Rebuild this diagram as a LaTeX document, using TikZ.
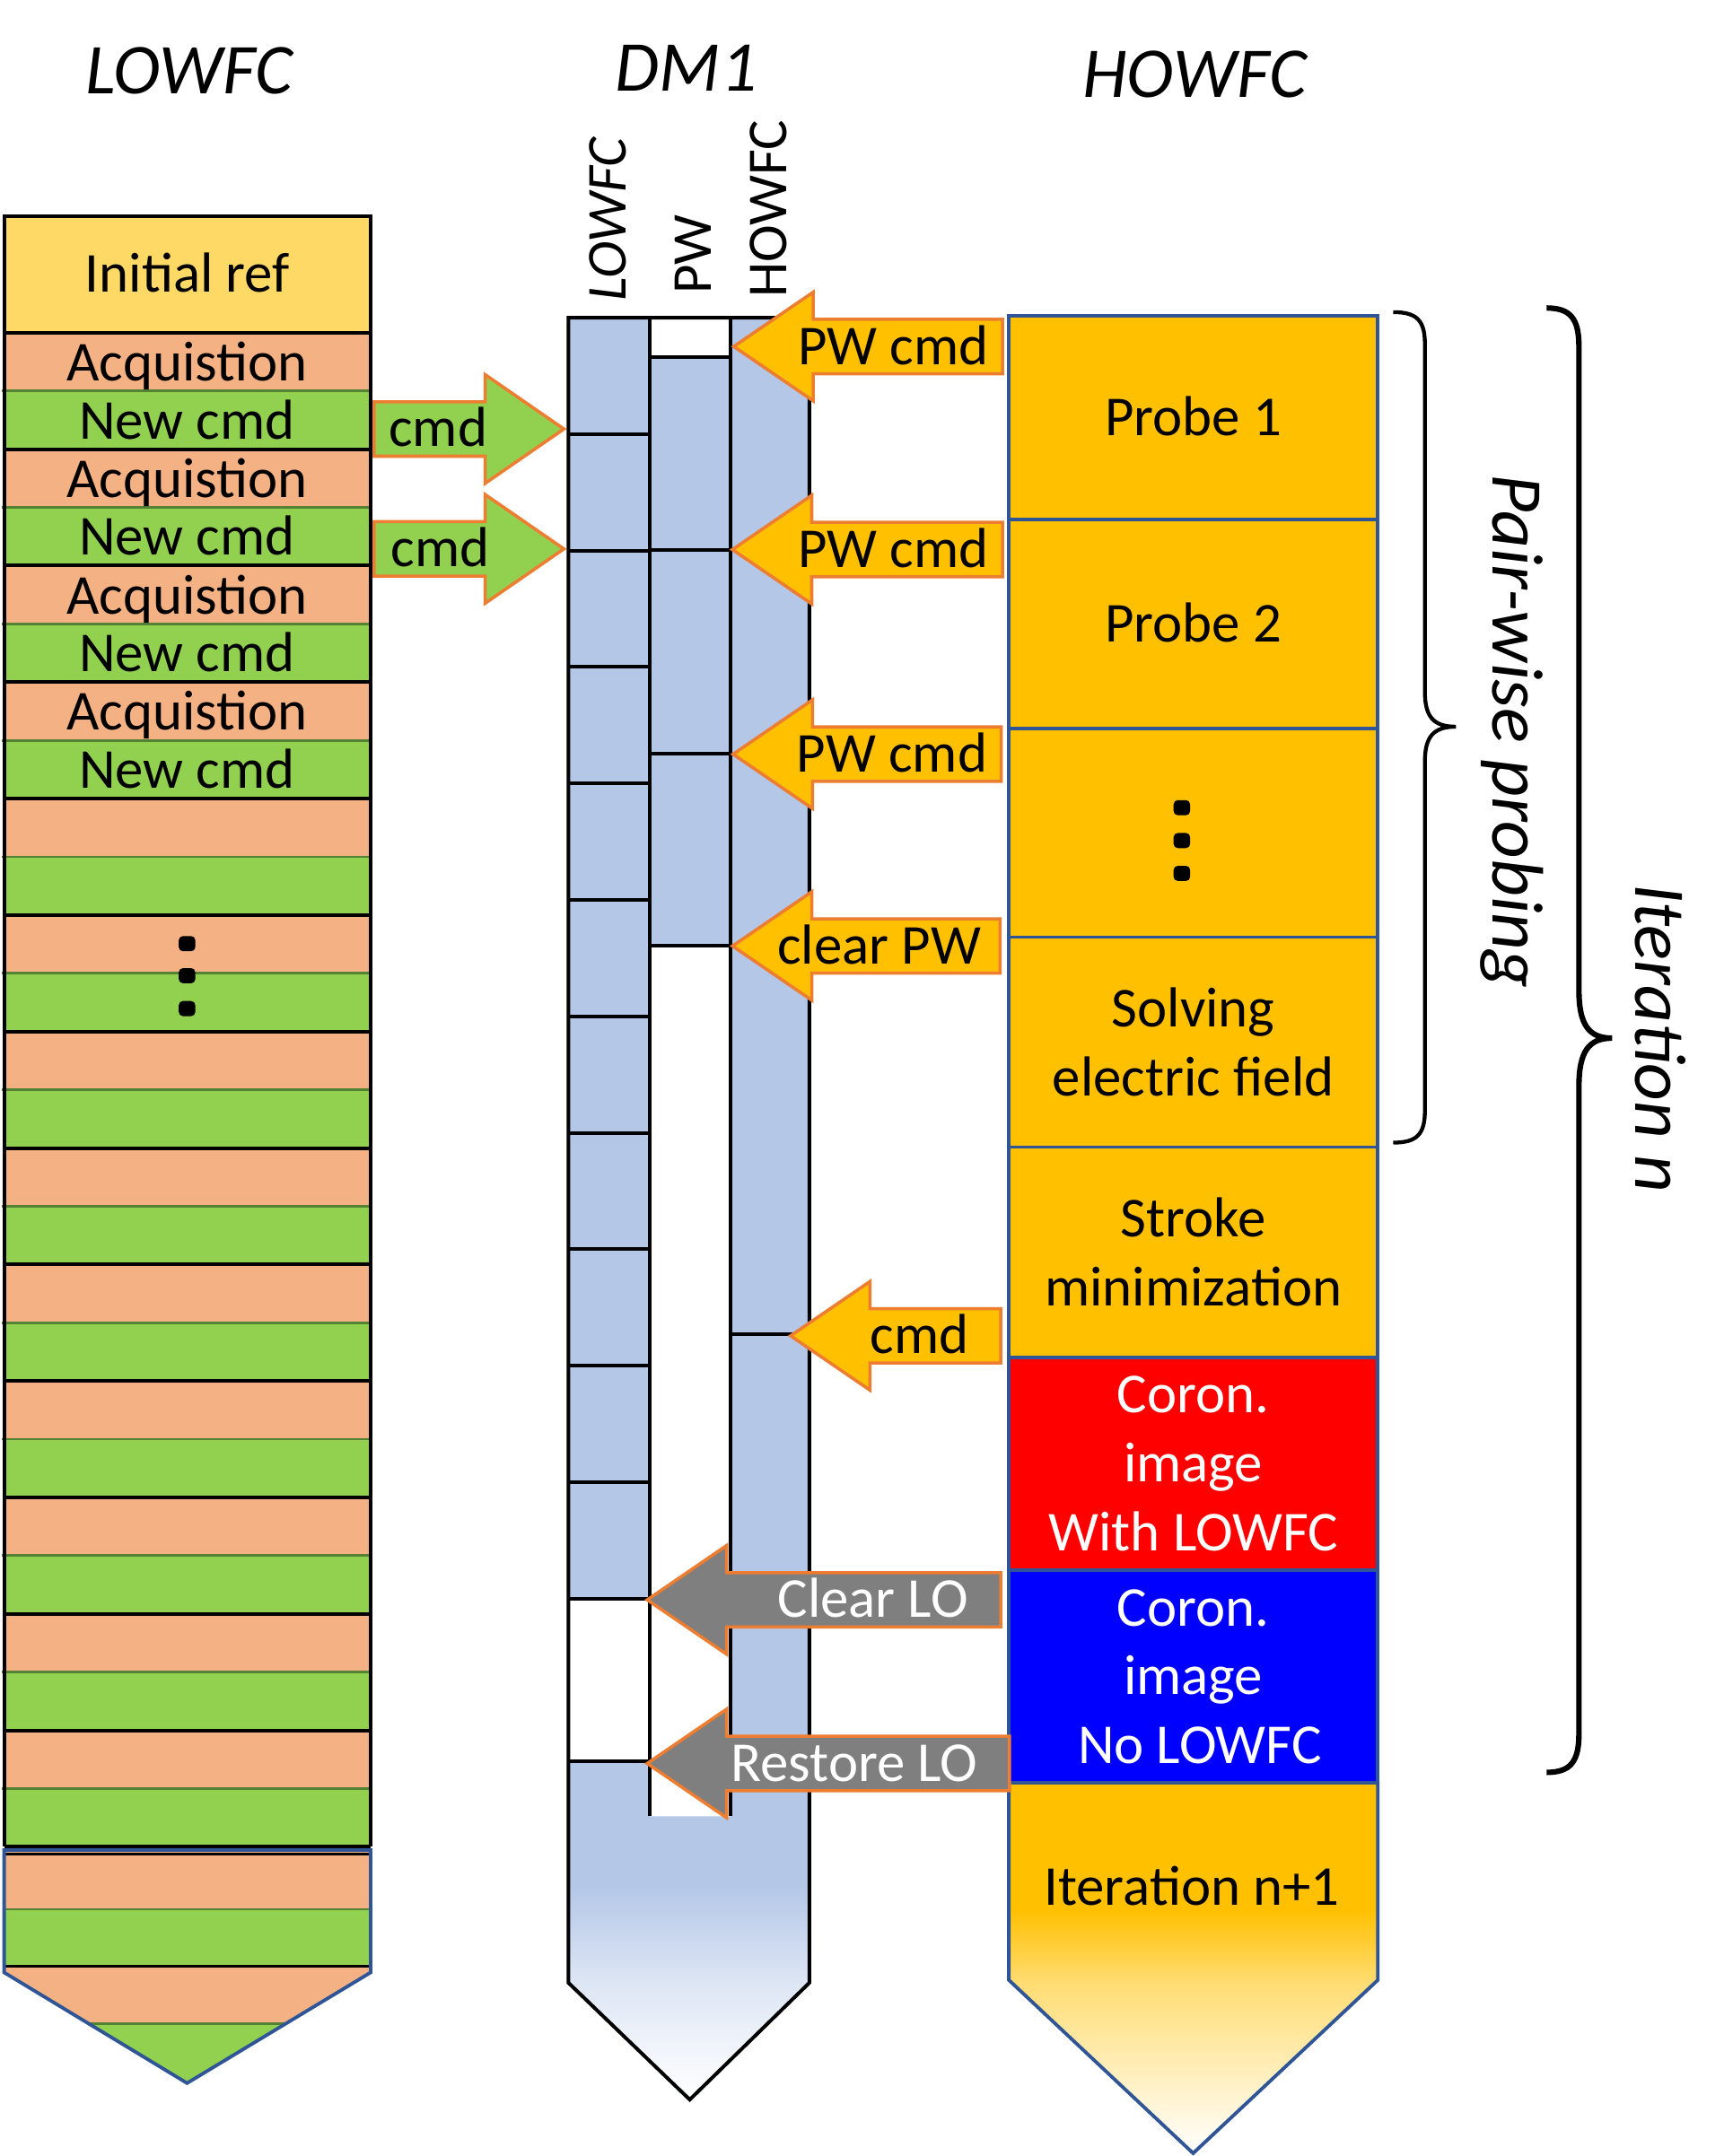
\documentclass[tikz,border=0pt]{standalone}
\usepackage{fontspec}
\setmainfont{Carlito}
\definecolor{initref}{HTML}{FFD966}
\definecolor{acq}{HTML}{F4B183}
\definecolor{newc}{HTML}{92D050}
\definecolor{dkgreen}{HTML}{548235}
\definecolor{dmblue}{HTML}{B4C7E7}
\definecolor{howy}{HTML}{FFC000}
\definecolor{bord}{HTML}{2F5597}
\definecolor{arrbord}{HTML}{ED7D31}
\definecolor{greyarr}{HTML}{7F7F7F}
\definecolor{coronred}{HTML}{FF0000}
\definecolor{coronblue}{HTML}{0000FF}
\pgfdeclareverticalshading{howshade}{100bp}{color(0bp)=(white); color(25bp)=(white); color(48bp)=(howy!55!white); color(58bp)=(howy); color(100bp)=(howy)}
\pgfdeclareverticalshading{dmshade}{100bp}{color(0bp)=(white); color(25bp)=(white); color(45.6bp)=(dmblue!45!white); color(62.9bp)=(dmblue); color(100bp)=(dmblue)}
\tikzset{
  lbl/.style={inner sep=0pt, font=\fontsize{41}{50}\selectfont, align=center},
  one/.style={text height=25.9pt, text depth=0pt},
  ttl/.style={inner sep=0pt, font=\fontsize{52}{62}\selectfont\itshape, text height=32.9pt, text depth=0pt},
  brl/.style={inner sep=0pt, font=\fontsize{53}{64}\selectfont\itshape, text height=33.5pt, text depth=0pt, rotate=-90},
  blk/.style={line width=2.6pt},
  cell/.style={line width=2.6pt},
  sepg/.style={dkgreen, line width=1.8pt},
  harrow/.style={fill=howy, draw=arrbord, line width=2.3pt},
  garrow/.style={fill=greyarr, draw=arrbord, line width=2.3pt},
  narrow/.style={fill=newc, draw=arrbord, line width=2.3pt},
  hbox/.style={draw=bord, line width=2.5pt, minimum width=268.3pt, lbl},
  dotbox/.style={fill=black, rounded corners=3pt},
}
\newcommand\ArrL[4]{\draw[#1] (#2,#3) -- ({#2+57.7},{#3-39.5}) -- ({#2+57.7},{#3-19.8}) -- (#4,{#3-19.8}) -- (#4,{#3+19.8}) -- ({#2+57.7},{#3+19.8}) -- ({#2+57.7},{#3+39.5}) -- cycle;}
\newcommand\ArrR[4]{\draw[#1] (#2,#3) -- ({#2-57.2},{#3-39.5}) -- ({#2-57.2},{#3-19.8}) -- (#4,{#3-19.8}) -- (#4,{#3+19.8}) -- ({#2-57.2},{#3+19.8}) -- ({#2-57.2},{#3+39.5}) -- cycle;}
\begin{document}
\begin{tikzpicture}[x=1pt,y=-1pt]
\useasboundingbox (0,0) rectangle (1253,1568);
\fill[white] (0,0) rectangle (1253,1568);

% ---------- titles ----------
\node[ttl] (tlow) at (137.5,52) {LOWFC};
\node[ttl] (tdm) at (499,49.5) {DM1};
\node[ttl] (thow) at (868.5,54.2) {HOWFC};

% ---------- LOWFC column ----------
\node[draw=black, blk, fill=initref, minimum width=266.5pt, minimum height=85pt, lbl, one] (initref) at (136.25,199.5) {Initial ref};
\foreach \k in {0,...,12} {
  \fill[acq] (3,{242+84.7*\k}) rectangle (269.5,{284.35+84.7*\k});
  \fill[newc] (3,{284.35+84.7*\k}) rectangle (269.5,{327.05+84.7*\k});
  \draw[sepg] (1.5,{284.35+84.7*\k}) -- (271,{284.35+84.7*\k});
}
\foreach \k in {0,...,13} \draw[blk] (3,{242+84.7*\k}) -- (269.5,{242+84.7*\k});
\draw[blk] (3,157) -- (3,1343.1) (269.5,157) -- (269.5,1343.1);
\foreach \k in {0,...,3} {
  \node[lbl,one] (acq\k) at (136,{264+84.7*\k}) {Acquistion};
  \node[lbl,one] (new\k) at (136,{306.2+84.7*\k}) {New cmd};
}
\foreach \yy in {686.3,709.6,733.5} \fill[dotbox] (130,{\yy-5.5}) rectangle (142,{\yy+5.5});
% bottom pentagon of LOWFC column
\begin{scope}
\clip (3,1345.5) -- (269.5,1345.5) -- (269.5,1434.5) -- (136,1515) -- (3,1434.5) -- cycle;
\fill[acq] (0,1344) rectangle (272,1388.5);
\fill[newc] (0,1388.5) rectangle (272,1430);
\fill[acq] (0,1430) rectangle (272,1471.7);
\fill[newc] (0,1471.7) rectangle (272,1520);
\draw[line width=1.5pt] (0,1348.5) -- (272,1348.5);
\draw[sepg] (0,1388.5) -- (272,1388.5);
\draw[line width=1.8pt] (0,1430) -- (272,1430);
\draw[sepg] (0,1471.7) -- (272,1471.7);
\end{scope}
\draw[bord, line width=2.5pt] (3,1345.5) -- (269.5,1345.5) -- (269.5,1434.5) -- (136,1515) -- (3,1434.5) -- cycle;

% ---------- DM1 column ----------
\fill[dmblue] (413.3,231) rectangle (472.2,1163);
\fill[dmblue] (413.3,1281) rectangle (472.2,1322);
\fill[dmblue] (472.2,260) rectangle (531.2,688);
\fill[dmblue] (531.2,231) rectangle (588.5,1322);
\shade[shading=dmshade] (413.3,1321) -- (413.3,1442) -- (501.5,1527) -- (588.5,1442) -- (588.5,1321) -- cycle;
\draw[cell] (413.3,231) -- (413.3,1442) -- (501.5,1527) -- (588.5,1442) -- (588.5,231) -- cycle;
\draw[cell] (472.2,231) -- (472.2,1321);
\draw[cell] (531.2,231) -- (531.2,1321);
\foreach \k in {1,...,11} \draw[cell] (413.3,{231+84.7*\k}) -- (472.2,{231+84.7*\k});
\draw[cell] (413.3,1281) -- (472.2,1281);
\foreach \yy in {260,400,548,688} \draw[cell] (472.2,\yy) -- (531.2,\yy);
\draw[cell] (531.2,970) -- (588.5,970);
\node[lbl,one,rotate=90,font={\fontsize{41}{50}\selectfont\itshape}] (clow) at (442.5,159.4) {LOWFC};
\node[lbl,one,rotate=90] (cpw) at (504,185) {PW};
\node[lbl,one,rotate=90] (chow) at (559,152) {HOWFC};

% ---------- HOWFC column ----------
\node[hbox, fill=howy, minimum height=148.5pt, one] (probe1) at (867.65,303.75) {Probe 1};
\node[hbox, fill=howy, minimum height=152pt, one] (probe2) at (867.65,454) {Probe 2};
\node[hbox, fill=howy, minimum height=151.5pt] (probedots) at (867.65,605.75) {};
\node[hbox, fill=howy, minimum height=152.7pt] (solve) at (867.65,757.85) {Solving\\electric field};
\node[hbox, fill=howy, minimum height=152.8pt] (stroke) at (867.65,910.6) {Stroke\\minimization};
\node[hbox, fill=coronred, text=white, minimum height=155pt] (coron1) at (867.65,1064.5) {Coron.\\image\\With LOWFC};
\node[hbox, fill=coronblue, text=white, minimum height=154.5pt] (coron2) at (867.65,1219.25) {Coron.\\image\\\hspace*{9.3pt}No LOWFC};
\foreach \yy in {587.4,611.3,635.2} \fill[dotbox] (853.3,{\yy-5.5}) rectangle (865.3,{\yy+5.5});
\shade[shading=howshade] (733.5,1296.5) -- (1001.8,1296.5) -- (1001.8,1440) -- (867.5,1566) -- (733.5,1440) -- cycle;
\draw[bord, line width=2.5pt] (733.5,1296.5) -- (1001.8,1296.5) -- (1001.8,1440) -- (867.5,1566) -- (733.5,1440) -- cycle;
\node[lbl,one] (itn1) at (866.5,1372.5) {Iteration n+1};

% ---------- block arrows ----------
\ArrR{narrow}{410}{312}{272}
\node[lbl,one,anchor=west] (cmdA) at (282.5,312) {cmd};
\ArrR{narrow}{410}{399.2}{272}
\node[lbl,one,anchor=west] (cmdB) at (284,399.2) {cmd};

\ArrL{harrow}{533.5}{252}{729}
\node[lbl,one,anchor=east] (pwc1) at (719,252) {PW cmd};
\ArrL{harrow}{532.5}{399.7}{729}
\node[lbl,one,anchor=east] (pwc2) at (719,399.7) {PW cmd};
\ArrL{harrow}{533}{548.5}{728}
\node[lbl,one,anchor=east] (pwc3) at (718,548.5) {PW cmd};
\ArrL{harrow}{532.6}{688}{727.2}
\node[lbl,one,anchor=east] (clrpw) at (713.5,688) {clear PW};
\ArrL{harrow}{574.8}{971.5}{727.7}
\node[lbl,one,anchor=east] (cmdC) at (704.5,971.5) {cmd};
\ArrL{garrow}{470.6}{1163.5}{727.7}
\node[lbl,one,anchor=east,text=white] (clrlo) at (704,1163.5) {Clear LO};
\ArrL{garrow}{470.6}{1282.5}{734}
\node[lbl,one,anchor=east,text=white] (rstlo) at (711,1282.5) {Restore LO};

% ---------- braces ----------
\draw[line width=2.8pt] (1013,227) .. controls (1030,227) and (1036,233) .. (1036,250) -- (1036,503)
  .. controls (1036,521) and (1042,528.5) .. (1058.5,528.5)
  .. controls (1042,528.5) and (1036,536) .. (1036,554) -- (1036,808)
  .. controls (1036,825) and (1030,831) .. (1013,831);
\draw[line width=4pt] (1124.5,224) .. controls (1142,224) and (1148,232) .. (1148,252) -- (1148,720)
  .. controls (1148,745) and (1155,755) .. (1172,755)
  .. controls (1155,755) and (1148,765) .. (1148,790) -- (1148,1261)
  .. controls (1148,1281) and (1142,1289) .. (1124.5,1289);
\node[brl] (pwlabel) at (1102,532) {Pair-wise probing};
\node[brl] (itlabel) at (1205.8,755) {Iteration n};
\end{tikzpicture}
\end{document}
